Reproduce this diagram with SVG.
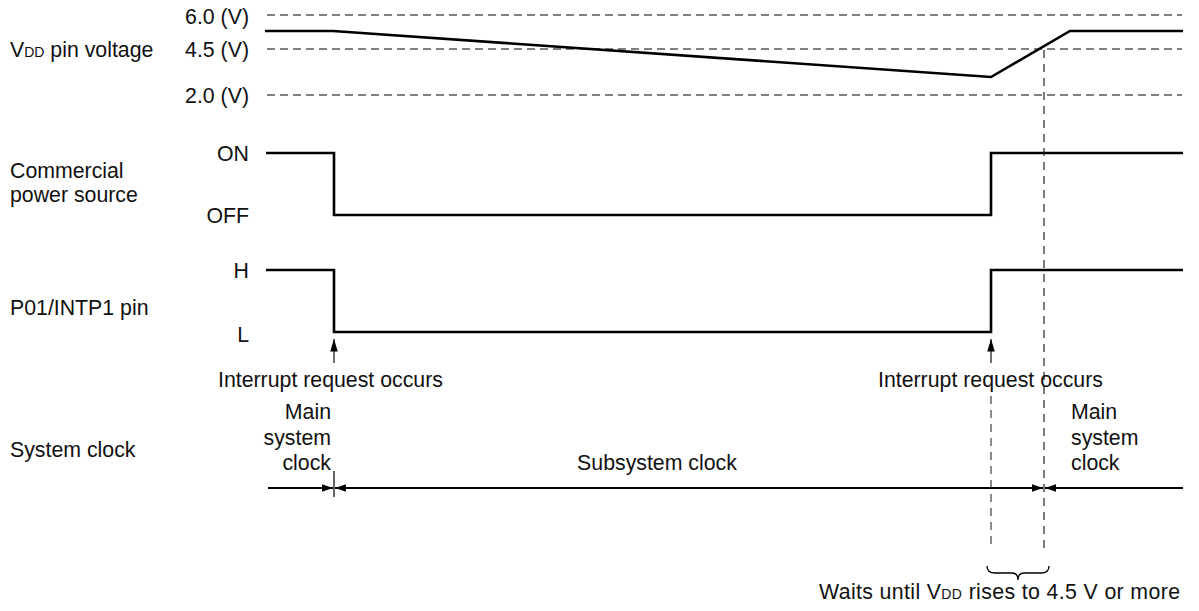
<svg xmlns="http://www.w3.org/2000/svg" width="1199" height="611" viewBox="0 0 1199 611">
<style>
text{font-family:"Liberation Sans",Arial,sans-serif;font-size:21.3px;fill:#111}
.r{text-anchor:end}
.m{text-anchor:middle}
.sub{font-size:14px}
.grid{stroke:#555;stroke-width:1.3;stroke-dasharray:8 5;fill:none}
.vd{stroke:#222;stroke-width:1.2;stroke-dasharray:8 6;fill:none}
.vd2{stroke:#666;stroke-width:1.5;stroke-dasharray:8 6;fill:none}
.sig{stroke:#000;stroke-width:2.6;fill:none;stroke-linejoin:miter}
.arr{stroke:#000;stroke-width:2.2;fill:none}
.thin{stroke:#333;stroke-width:1.4;fill:none}
</style>
<defs>
<marker id="ah" viewBox="0 0 10 10" refX="10" refY="5" markerWidth="5" markerHeight="5" orient="auto-start-reverse" markerUnits="strokeWidth">
<path d="M0,1.5 L10,5 L0,8.5 z" fill="#000"/>
</marker>
<marker id="ahs" viewBox="0 0 10 10" refX="10" refY="5" markerWidth="9" markerHeight="9" orient="auto" markerUnits="strokeWidth">
<path d="M0,2 L10,5 L0,8 z" fill="#000"/>
</marker>
</defs>
<g id="labels">
<text x="10" y="57">V<tspan class="sub">DD</tspan> pin voltage</text>
<text x="10" y="178">Commercial</text>
<text x="10" y="202">power source</text>
<text x="10" y="315">P01/INTP1 pin</text>
<text x="10" y="457">System clock</text>
<text class="r" x="249" y="24">6.0 (V)</text>
<text class="r" x="249" y="57">4.5 (V)</text>
<text class="r" x="249" y="103">2.0 (V)</text>
<text class="r" x="249" y="161">ON</text>
<text class="r" x="249" y="223">OFF</text>
<text class="r" x="249" y="278">H</text>
<text class="r" x="249" y="342">L</text>
</g>
<g id="grid">
<line class="grid" x1="267" y1="15" x2="1182" y2="15"/>
<line class="grid" x1="267" y1="49" x2="1182" y2="49"/>
<line class="grid" x1="267" y1="95" x2="1182" y2="95"/>
</g>
<g id="vdd">
<polyline class="sig" points="265,31 333,31 991,77 1070,31 1183,31"/>
</g>
<g id="commercial">
<polyline class="sig" points="266,153 334,153 334,215 991,215 991,153 1183,153"/>
</g>
<g id="p01">
<polyline class="sig" points="266,270 334,270 334,332 991,332 991,270 1183,270"/>
</g>
<g id="connectors">
<line class="vd" x1="1044" y1="50" x2="1044" y2="550"/>
<line class="vd2" x1="991" y1="396" x2="991" y2="550"/>
<line class="thin" x1="334" y1="363" x2="334" y2="339" marker-end="url(#ahs)"/>
<line class="thin" x1="991" y1="363" x2="991" y2="339" marker-end="url(#ahs)"/>
<line x1="334" y1="471" x2="334" y2="497" stroke="#000" stroke-width="1.2"/>
<line class="arr" x1="268" y1="488" x2="333" y2="488" marker-end="url(#ah)"/>
<line class="arr" x1="335" y1="488" x2="1043" y2="488" marker-start="url(#ah)" marker-end="url(#ah)"/>
<line class="arr" x1="1183" y1="488" x2="1045" y2="488" marker-end="url(#ah)"/>
<path d="M987,566 Q987,573 995,573 L1012,573 Q1018,573 1018,580 Q1018,573 1024,573 L1041,573 Q1049,573 1049,566" stroke="#000" stroke-width="1.3" fill="none"/>
</g>
<g id="annotations">
<text x="218" y="387">Interrupt request occurs</text>
<text x="878" y="387">Interrupt request occurs</text>
<text class="r" x="331" y="419">Main</text>
<text class="r" x="331" y="445">system</text>
<text class="r" x="331" y="470">clock</text>
<text x="1071" y="419">Main</text>
<text x="1071" y="445">system</text>
<text x="1071" y="470">clock</text>
<text class="m" x="657" y="470">Subsystem clock</text>
<text x="819" y="599" textLength="361" lengthAdjust="spacing">Waits until V<tspan class="sub">DD</tspan> rises to 4.5 V or more</text>
</g>
</svg>
